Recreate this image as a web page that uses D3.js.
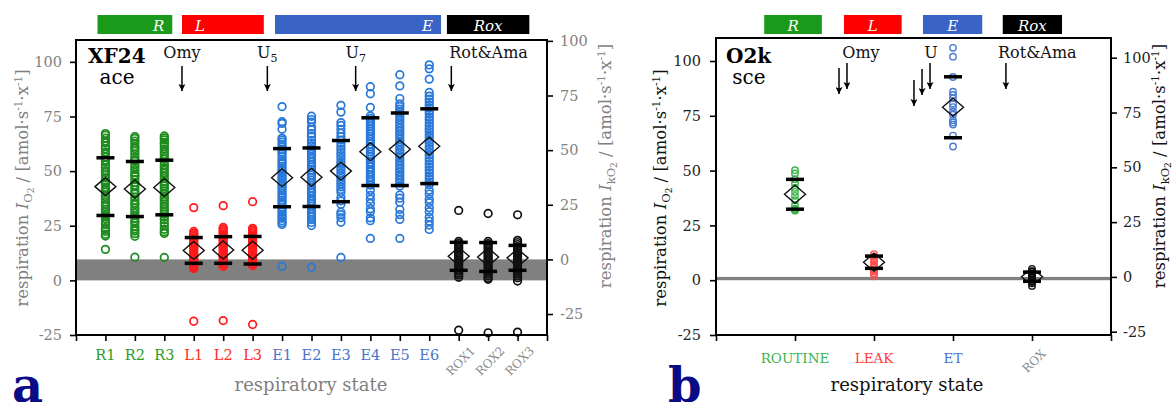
<!DOCTYPE html>
<html>
<head>
<meta charset="utf-8">
<script src="https://cdn.jsdelivr.net/npm/d3@7"></script>
<style>
  body { margin: 0; background: #fff; }
  text { font-family: "DejaVu Serif", serif; }
</style>
</head>
<body>
<div id="chart"></div>
<script>
/**
 * DATA
 * */
// panel a: XF24, ace
const catsA = ["R1", "R2", "R3", "L1", "L2", "L3", "E1", "E2", "E3", "E4", "E5", "E6", "ROX1", "ROX2", "ROX3"];
const groupsA = ["R", "R", "R", "L", "L", "L", "E", "E", "E", "E", "E", "E", "X", "X", "X"];
const pointsA = [
  [67.2, 66.4, 65.1, 63.8, 62.9, 61.5, 60.2, 58.7, 57.9, 56.4, 55.1, 54.3, 52.8, 51.6, 50.2, 49.5, 48.1, 46.9, 45.8, 44.6, 43.9, 42.5, 41.7, 40.3, 39.1, 38.4, 37.2, 35.9, 34.6, 33.8, 32.5, 31.4, 30.1, 29.3, 28.2, 26.9, 25.7, 24.1, 23.2, 22.4, 21.1, 20.3, 14.2],
  [65.8, 64.9, 63.7, 62.6, 61.2, 60.4, 59.1, 57.8, 56.5, 55.2, 54.6, 53.1, 51.9, 50.7, 49.4, 48.2, 47.5, 46.1, 44.8, 43.6, 42.9, 41.4, 40.2, 39.5, 38.1, 36.8, 35.4, 34.7, 33.2, 32.1, 30.9, 29.6, 28.4, 27.1, 26.3, 24.8, 23.5, 22.6, 21.4, 20.2, 10.6],
  [66.1, 65.2, 64.3, 63.1, 62.4, 61.3, 60.1, 58.9, 57.6, 56.2, 55.4, 54.1, 52.7, 51.5, 50.3, 49.2, 47.8, 46.6, 45.3, 44.1, 43.2, 42.0, 40.9, 39.6, 38.3, 37.4, 36.1, 34.9, 33.6, 32.4, 31.2, 30.3, 29.1, 27.8, 26.2, 24.9, 23.4, 22.3, 21.5, 10.5],
  [33.3, 22.4, 21.6, 20.9, 20.1, 19.3, 18.6, 17.8, 17.1, 16.4, 15.6, 14.9, 14.2, 13.5, 12.7, 12.1, 11.3, 10.6, 9.9, 9.2, 8.5, 7.8, 7.2, 6.6, 6.0, 5.4, -18.7],
  [34.2, 24.2, 23.5, 22.7, 21.9, 21.2, 20.4, 19.7, 18.9, 18.2, 17.4, 16.7, 15.9, 15.2, 14.4, 13.7, 12.9, 12.2, 11.4, 10.7, 9.9, 9.2, 8.4, 7.7, 7.0, 6.4, -18.4],
  [36.0, 23.8, 23.1, 22.4, 21.6, 20.8, 20.1, 19.3, 18.6, 17.8, 17.1, 16.3, 15.6, 14.8, 14.1, 13.3, 12.6, 11.8, 11.1, 10.3, 9.6, 8.8, 8.1, 7.4, 6.8, -20.2],
  [79.5, 72.6, 71.8, 69.2, 65.1, 64.3, 63.2, 62.1, 61.0, 59.8, 58.7, 57.9, 56.6, 55.4, 54.3, 53.5, 52.2, 51.1, 50.3, 49.2, 48.0, 47.1, 46.3, 45.2, 44.0, 43.1, 42.2, 41.0, 39.9, 38.8, 37.9, 36.7, 35.8, 34.6, 33.5, 32.4, 31.3, 30.1, 29.2, 28.4, 27.3, 26.4, 25.6, 6.4],
  [75.1, 73.6, 72.4, 70.1, 68.9, 67.2, 65.8, 64.1, 62.9, 61.6, 60.2, 59.1, 57.7, 56.5, 55.3, 54.1, 52.9, 51.8, 50.4, 49.3, 48.1, 47.0, 45.8, 44.6, 43.4, 42.3, 41.1, 40.0, 38.7, 37.4, 36.2, 35.1, 33.9, 32.6, 31.4, 30.2, 29.1, 27.8, 26.5, 25.1, 6.0],
  [80.1, 77.0, 72.2, 70.9, 69.1, 67.4, 65.8, 64.2, 62.7, 61.3, 59.9, 58.4, 57.1, 55.8, 54.3, 53.1, 51.6, 50.4, 49.1, 47.8, 46.6, 45.3, 44.1, 42.8, 41.6, 40.3, 37.9, 36.4, 34.8, 31.2, 30.1, 28.7, 26.6, 10.5],
  [88.6, 85.4, 79.1, 75.2, 74.1, 73.0, 71.8, 70.6, 69.4, 68.2, 67.1, 65.9, 64.7, 63.6, 62.4, 61.2, 60.1, 58.9, 57.7, 56.6, 55.4, 54.2, 53.1, 51.9, 50.7, 49.6, 48.4, 47.2, 46.1, 44.9, 43.6, 41.2, 38.9, 37.1, 35.2, 32.8, 31.4, 28.6, 27.3, 19.2],
  [94.1, 89.0, 83.2, 80.8, 79.6, 78.4, 77.1, 75.9, 74.6, 73.4, 72.1, 70.9, 69.6, 68.4, 67.1, 65.9, 64.6, 63.4, 62.1, 60.9, 59.6, 58.4, 57.1, 55.9, 54.6, 53.4, 52.1, 50.9, 49.6, 48.4, 47.1, 45.9, 44.6, 43.2, 39.1, 37.6, 35.8, 32.4, 30.1, 27.9, 19.2],
  [98.6, 96.8, 92.1, 86.0, 84.3, 82.9, 81.6, 80.2, 78.9, 77.5, 76.2, 74.8, 73.5, 72.1, 70.8, 69.4, 68.1, 66.7, 65.4, 64.0, 62.7, 61.3, 60.0, 58.6, 57.3, 55.9, 54.6, 53.2, 51.9, 50.5, 49.2, 47.8, 46.5, 45.1, 43.8, 41.2, 39.5, 37.1, 35.6, 33.2, 31.4, 28.9, 27.1, 25.3, 23.3],
  [32.0, 17.8, 16.9, 16.1, 15.2, 14.4, 13.5, 12.7, 11.8, 11.0, 10.1, 9.3, 8.4, 7.6, 6.7, 5.9, 5.0, 4.2, 3.3, 2.5, 1.4, -22.8],
  [30.6, 17.8, 16.8, 15.9, 15.0, 14.1, 13.1, 12.2, 11.3, 10.4, 9.5, 8.5, 7.6, 6.7, 5.8, 4.9, 3.9, 3.0, 2.1, 1.2, 0.5, -24.0],
  [30.0, 18.3, 17.3, 16.4, 15.4, 14.5, 13.5, 12.6, 11.6, 10.7, 9.7, 8.8, 7.8, 6.9, 5.9, 5.0, 4.0, 3.1, 2.1, 1.2, -0.3, -23.7]
];
const meansA = [42.9, 41.8, 42.5, 13.7, 13.9, 13.8, 47.0, 47.2, 50.0, 58.9, 60.0, 61.4, 11.0, 10.7, 10.3];
const sdsA = [13.2, 12.6, 12.5, 5.9, 6.1, 6.3, 13.3, 13.4, 14.0, 15.5, 16.6, 17.1, 6.4, 6.6, 5.7];

// panel b: O2k, sce
const catsB = ["ROUTINE", "LEAK", "ET", "ROX"];
const groupsB = ["R", "L", "E", "X"];
const pointsB = [
  [50.2, 48.7, 46.1, 44.1, 42.1, 40.3, 38.5, 36.5, 34.2, 32.7, 32.4, 32.0, 31.7],
  [11.9, 10.8, 9.6, 8.5, 7.3, 6.2, 5.0, 4.1, 3.2, 1.8],
  [106.0, 102.0, 92.7, 86.0, 84.5, 83.0, 80.5, 79.0, 77.0, 75.5, 73.0, 72.0, 71.0, 66.0, 61.0],
  [5.2, 4.1, 3.2, 2.6, 2.0, 1.5, 1.0, 0.4, -0.5, -1.4, -2.6]
];
const meansB = [39.2, 8.2, 78.9, 1.6];
const sdsB = [6.8, 2.8, 13.9, 2.1];

const yTicks = [-25, 0, 25, 50, 75, 100];
const stateBars = ["R", "L", "E", "Rox"];

/**
 * STYLE / LAYOUT
 * */
const width = 1175, height = 402;
const svg = d3.select("#chart").append("svg")
  .attr("width", width).attr("height", height);

const panelA = {
  cats: catsA, groups: groupsA, points: pointsA, means: meansA, sds: sdsA,
  left: 76, right: 547, top: 40, bottom: 335, yDomain: [-25, 110], offset: 9.6,
  tickColor: "#7f7f7f", titleColor: "#7f7f7f", r: 3.8, sw: 1.7,
  dot: { R: "#1e8c1e", L: "#ff1a1a", E: "#2878d8", X: "#111" },
  lab: { R: "#2a9a2a", L: "#ff2a2a", E: "#4a72c8", X: "#8a8a8a" },
  catFont: 14.5, padL: 8, padR: 7, labelY: 360, roxY: 361,
  bars: [[0.73, 3.27, "end"], [3.6, 6.38, "start"], [6.76, 12.4, "end"], [12.6, 15.4, "middle"]],
  title: ["XF24", "ace"], titleX: 88, subX: 117, letter: "a", letterX: 12,
  leftLabelX: 28, rightLabelX: 611, xTitleX: 311,
  notes: [
    { text: "Omy", sub: "", tx: 3.6, anchor: "middle", arrows: [[3.6, 66, 91]] },
    { text: "U", sub: "5", tx: 6.5, anchor: "middle", arrows: [[6.5, 66, 91]] },
    { text: "U", sub: "7", tx: 9.5, anchor: "middle", arrows: [[9.5, 66, 91]] },
    { text: "Rot&Ama", sub: "", tx: 12.68, anchor: "start", arrows: [[12.75, 66, 91]] }
  ]
};

const panelB = {
  cats: catsB, groups: groupsB, points: pointsB, means: meansB, sds: sdsB,
  left: 716, right: 1111, top: 38, bottom: 335, yDomain: [-25, 110.5], offset: 1.5,
  tickColor: "#222", titleColor: "#111", r: 3.2, sw: 1.4,
  dot: { R: "#3cb44b", L: "#ff4d4d", E: "#4a7bd0", X: "#111" },
  lab: { R: "#3cb44b", L: "#ff3b3b", E: "#4a72c8", X: "#8a8a8a" },
  catFont: 13.5, padL: 9, padR: 6, labelY: 363, roxY: 361,
  bars: [[0.61, 1.34, "middle"], [1.62, 2.35, "middle"], [2.62, 3.37, "middle"], [3.63, 4.38, "middle"]],
  title: ["O2k", "sce"], titleX: 726, subX: 749, letter: "b", letterX: 668,
  leftLabelX: 666, rightLabelX: 1165, xTitleX: 907,
  notes: [
    { text: "Omy", sub: "", tx: 1.835, anchor: "middle", arrows: [[1.557, 68, 94], [1.658, 63, 89]] },
    { text: "U", sub: "", tx: 2.72, anchor: "middle", arrows: [[2.506, 80, 106], [2.608, 69, 95], [2.709, 63, 89]] },
    { text: "Rot&Ama", sub: "", tx: 3.57, anchor: "start", arrows: [[3.67, 63, 89]] }
  ]
};

const barColors = { R: "#1a9a1a", L: "#ff0000", E: "#3a63c6", Rox: "#000" };

svg.append("defs").append("marker")
  .attr("id", "head")
  .attr("viewBox", "0 0 10 10")
  .attr("refX", 10).attr("refY", 5)
  .attr("markerWidth", 7).attr("markerHeight", 7)
  .attr("markerUnits", "userSpaceOnUse")
  .attr("orient", "auto")
  .append("path").attr("d", "M0,0 L10,5 L0,10 L2,5 Z").attr("fill", "#000");

// y axis title with sub/superscripts
function yTitle(g, x, y, sub, color) {
  const t = g.append("text")
    .attr("transform", `translate(${x},${y}) rotate(-90)`)
    .attr("text-anchor", "middle")
    .attr("font-size", 16.5)
    .attr("fill", color);
  t.append("tspan").text("respiration ");
  t.append("tspan").attr("font-style", "italic").text("I");
  t.append("tspan").attr("font-size", 11.5).attr("dy", 4).text(sub);
  t.append("tspan").attr("font-size", 9).attr("dy", 2).text("2");
  t.append("tspan").attr("font-size", 16.5).attr("dy", -6).text(" / [amol·s");
  t.append("tspan").attr("font-size", 10.5).attr("dy", -6).text("-1");
  t.append("tspan").attr("font-size", 16.5).attr("dy", 6).text("·x");
  t.append("tspan").attr("font-size", 10.5).attr("dy", -6).text("-1");
  t.append("tspan").attr("font-size", 16.5).attr("dy", 6).text("]");
}

function drawPanel(p) {
  const g = svg.append("g");
  const n = p.cats.length;
  const x = d3.scaleLinear().domain([0, n + 1]).range([p.left, p.right]);
  const y = d3.scaleLinear().domain(p.yDomain).range([p.bottom, p.top]);
  const y2 = d3.scaleLinear()
    .domain([p.yDomain[0] - p.offset, p.yDomain[1] - p.offset])
    .range([p.bottom, p.top]);

  // background band (offset between both scales)
  g.append("rect")
    .attr("x", p.left).attr("width", p.right - p.left)
    .attr("y", y(p.offset)).attr("height", y(0) - y(p.offset))
    .attr("fill", "#808080");

  // state bars on top
  stateBars.forEach((s, i) => {
    const [a, b, anchor] = p.bars[i];
    g.append("rect")
      .attr("x", x(a)).attr("width", x(b) - x(a))
      .attr("y", 15).attr("height", 19)
      .attr("fill", barColors[s]);
    const tx = anchor === "end" ? x(b) - 8 : anchor === "start" ? x(a) + 13 : (x(a) + x(b)) / 2;
    g.append("text")
      .attr("x", tx).attr("y", 31)
      .attr("text-anchor", anchor)
      .attr("font-size", 15).attr("font-style", "italic")
      .attr("fill", "#fff").text(s);
  });

  // dots
  p.points.forEach((vals, i) => {
    g.append("g").selectAll("circle")
      .data(vals)
      .join("circle")
      .attr("cx", x(i + 1))
      .attr("cy", d => y(d))
      .attr("r", p.r)
      .attr("fill", "none")
      .attr("stroke", p.dot[p.groups[i]])
      .attr("stroke-width", p.sw);
  });

  // mean diamonds + SD bars
  p.means.forEach((m, i) => {
    const cx = x(i + 1), cy = y(m);
    g.append("path")
      .attr("d", `M${cx - 10.5},${cy} L${cx},${cy - 9} L${cx + 10.5},${cy} L${cx},${cy + 9} Z`)
      .attr("fill", "none").attr("stroke", "#111").attr("stroke-width", 1.4);
    [m + p.sds[i], m - p.sds[i]].forEach(v => {
      g.append("line")
        .attr("x1", cx - 9).attr("x2", cx + 9)
        .attr("y1", y(v)).attr("y2", y(v))
        .attr("stroke", "#000").attr("stroke-width", 3.5);
    });
  });

  // frame
  g.append("rect")
    .attr("x", p.left).attr("y", p.top)
    .attr("width", p.right - p.left).attr("height", p.bottom - p.top)
    .attr("fill", "none").attr("stroke", "#000").attr("stroke-width", 2);

  // axes
  const fmt = d => String(d);
  const ax = g.append("g").attr("transform", `translate(${p.left},0)`)
    .call(d3.axisLeft(y).tickValues(yTicks).tickFormat(fmt).tickSize(6).tickSizeOuter(0).tickPadding(p.padL));
  const ax2 = g.append("g").attr("transform", `translate(${p.right},0)`)
    .call(d3.axisRight(y2).tickValues(yTicks).tickFormat(fmt).tickSize(6).tickSizeOuter(0).tickPadding(p.padR));
  const axb = g.append("g").attr("transform", `translate(0,${p.bottom})`)
    .call(d3.axisBottom(x).tickValues(d3.range(n + 2)).tickFormat("").tickSize(6).tickSizeOuter(0));
  [ax, ax2, axb].forEach(a => {
    a.select(".domain").remove();
    a.selectAll(".tick line").attr("stroke", "#000").attr("stroke-width", 1.6);
    a.selectAll(".tick text")
      .attr("font-family", "DejaVu Serif").attr("font-size", 14.5)
      .attr("fill", p.tickColor);
  });

  // category labels
  p.cats.forEach((c, i) => {
    const grp = p.groups[i];
    if (grp === "X") {
      g.append("text")
        .attr("transform", `translate(${x(i + 1) + 2},${p.roxY}) rotate(-45)`)
        .attr("text-anchor", "middle").attr("dy", "0.35em")
        .attr("font-size", 12).attr("fill", p.lab.X).text(c);
    } else {
      g.append("text")
        .attr("x", x(i + 1)).attr("y", p.labelY)
        .attr("text-anchor", "middle")
        .attr("font-size", p.catFont).attr("fill", p.lab[grp]).text(c);
    }
  });

  // titles
  g.append("text").attr("x", p.xTitleX).attr("y", 391)
    .attr("text-anchor", "middle").attr("font-size", 18)
    .attr("fill", p.titleColor).text("respiratory state");
  yTitle(g, p.leftLabelX, 188, "O", p.titleColor);
  yTitle(g, p.rightLabelX, 166, "kO", p.titleColor);

  g.append("text").attr("x", p.titleX).attr("y", 63)
    .attr("font-size", 20).attr("font-weight", "bold").text(p.title[0]);
  g.append("text").attr("x", p.subX).attr("y", 84)
    .attr("text-anchor", "middle").attr("font-size", 20).text(p.title[1]);

  g.append("text").attr("x", p.letterX).attr("y", 402)
    .attr("font-size", 48).attr("font-weight", "bold")
    .attr("fill", "#0b0b85").text(p.letter);

  // injections: label + arrows
  p.notes.forEach(nt => {
    const t = g.append("text").attr("x", x(nt.tx)).attr("y", 58)
      .attr("text-anchor", nt.anchor).attr("font-size", 16).attr("fill", "#111");
    t.append("tspan").text(nt.text);
    if (nt.sub) t.append("tspan").attr("font-size", 11).attr("dy", 4).text(nt.sub);
    nt.arrows.forEach(([ai, y0, y1]) => {
      g.append("line")
        .attr("x1", x(ai)).attr("x2", x(ai))
        .attr("y1", y0).attr("y2", y1)
        .attr("stroke", "#000").attr("stroke-width", 1.5)
        .attr("marker-end", "url(#head)");
    });
  });
}

drawPanel(panelA);
drawPanel(panelB);
</script>
</body>
</html>
